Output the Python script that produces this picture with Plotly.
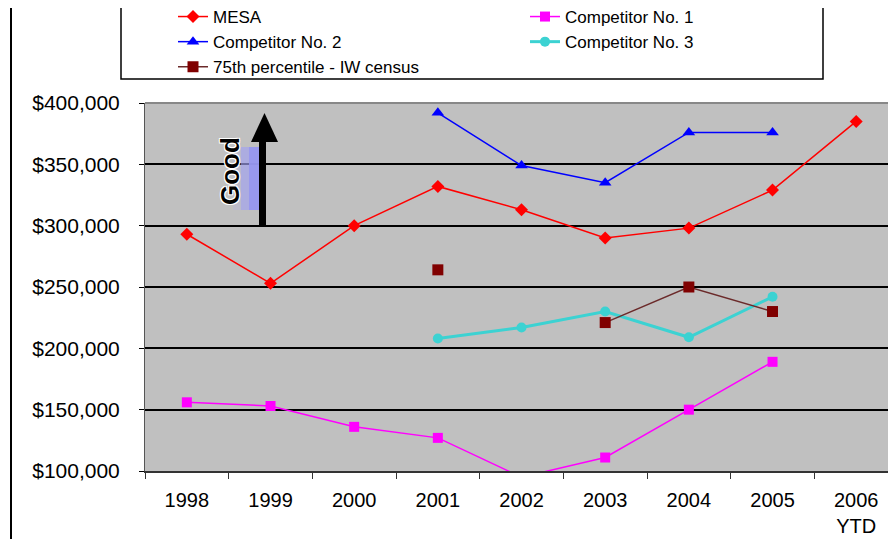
import plotly.graph_objects as go

years = ["1998", "1999", "2000", "2001", "2002", "2003", "2004", "2005", "2006<br>YTD"]
mesa = [293000, 253000, 300000, 332000, 313000, 290000, 298000, 329000, 385000]
comp1 = [156000, 153000, 136000, 127000, 95000, 111000, 150000, 189000, None]
comp2 = [None, None, None, 392000, 349000, 335000, 376000, 376000, None]
comp3 = [None, None, None, 208000, 217000, 230000, 209000, 242000, None]
pct75 = [None, None, None, 264000, None, 221000, 250000, 230000, None]
y_ticks = [100000, 150000, 200000, 250000, 300000, 350000, 400000]
y_tick_text = ["$" + f"{v:,}" for v in y_ticks]

# page body has an 8px margin: figure pixel = screen pixel - OFF
OFF = 8
W, H = 896 - 2 * OFF, 547 - 2 * OFF
L, R, T, B = 145 - OFF, 0, 103 - OFF, H - (471 - OFF)
PW, PH = W - L - R, H - T - B


def px(sx, sy):
    return (sx - OFF - L) / PW, (H - B - (sy - OFF)) / PH


FONT = "Liberation Sans, Arial, sans-serif"

fig = go.Figure()
series = [
    ("MESA", mesa, "#FF0000", "diamond", 10, 1.5),
    ("Competitor No. 1", comp1, "#FF00FF", "square", 10, 1.5),
    ("Competitor No. 2", comp2, "#0000FF", "triangle-up", 11, 1.5),
    ("Competitor No. 3", comp3, "#3CD2D2", "circle", 10, 3),
    ("75th percentile - IW census", pct75, "#800000", "square", 11, 1.5),
]
for name, vals, color, sym, size, lw in series:
    lc = "#6B2A2A" if color == "#800000" else color
    fig.add_trace(go.Scatter(
        x=years, y=vals, name=name, mode="lines+markers",
        line=dict(color=lc, width=lw),
        marker=dict(color=color, symbol=sym, size=size),
        connectgaps=False,
    ))

shapes = []
# outer frame (left and top)
x0, y0 = px(11, 560)
x1, y1 = px(11, 6)
shapes.append(dict(type="line", xref="paper", yref="paper", x0=x0, y0=y0, x1=x1, y1=y1,
                   line=dict(color="black", width=2)))
x2, _ = px(904, 6)
shapes.append(dict(type="line", xref="paper", yref="paper", x0=x0, y0=y1, x1=x2, y1=y1,
                   line=dict(color="#333333", width=2)))
# legend box
a, b = px(121, 79)
c, d = px(823, 6)
shapes.append(dict(type="rect", xref="paper", yref="paper", x0=a, y0=b, x1=c, y1=d,
                   line=dict(color="black", width=1.5), fillcolor="rgba(0,0,0,0)"))
# top plot border (gray)
shapes.append(dict(type="line", xref="paper", yref="paper", x0=0, y0=1, x1=1, y1=1,
                   line=dict(color="#888888", width=2)))
# lavender gradient behind "Good"
grad = [(233, "rgba(170,170,240,0.25)"), (241, "rgba(160,160,240,0.55)"), (249, "rgba(150,150,240,0.9)")]
for gx, gc in grad:
    a, b = px(gx, 210)
    c, d = px(259, 147)
    shapes.append(dict(type="rect", xref="paper", yref="paper", x0=a, y0=b, x1=c, y1=d,
                       line=dict(width=0), fillcolor=gc, layer="above"))
# arrow shaft
a, b = px(259, 226)
c, d = px(266, 140)
shapes.append(dict(type="rect", xref="paper", yref="paper", x0=a, y0=b, x1=c, y1=d,
                   line=dict(width=0), fillcolor="black", layer="above"))
# arrow head
p1 = px(251, 142)
p2 = px(278, 142)
p3 = px(264.5, 113)
shapes.append(dict(type="path", xref="paper", yref="paper",
                   path=f"M {p1[0]},{p1[1]} L {p2[0]},{p2[1]} L {p3[0]},{p3[1]} Z",
                   line=dict(width=0), fillcolor="black", layer="above"))

gx, gy = px(230, 171)
lx, ly = px(143, -1)

fig.update_layout(
    width=W, height=H, autosize=False,
    margin=dict(l=L, r=R, t=T, b=B, pad=0, autoexpand=False),
    paper_bgcolor="white", plot_bgcolor="#C0C0C0",
    font=dict(family=FONT, color="black"),
    shapes=shapes,
    annotations=[dict(
        x=gx, y=gy, xref="paper", yref="paper", text="<b>Good</b>", textangle=-90,
        xanchor="center", yanchor="middle",
        showarrow=False, font=dict(size=26, color="black", family=FONT,
                                   shadow="-1px -1px 0 white, 1px -1px 0 white, -1px 1px 0 white, 1px 1px 0 white"),
    )],
    legend=dict(
        orientation="h", x=lx, y=ly, xanchor="left", yanchor="top",
        bgcolor="rgba(0,0,0,0)", borderwidth=0,
        font=dict(size=17, family=FONT), entrywidth=277, entrywidthmode="pixels",
        indentation=30, traceorder="normal",
    ),
    showlegend=True,
)
fig.update_xaxes(
    type="category", tickson="boundaries", ticks="outside", ticklen=6, tickcolor="#333333",
    showline=True, linecolor="#333333", linewidth=2, showgrid=False,
    tickfont=dict(size=20, family=FONT), ticklabelstandoff=10,
    range=[-0.5, 8.38], automargin=False,
)
fig.update_yaxes(
    range=[100000, 400000], tickvals=y_ticks, ticktext=y_tick_text,
    ticks="outside", ticklen=5, tickcolor="black",
    showgrid=True, gridcolor="black", gridwidth=2,
    showline=True, linecolor="#555555", linewidth=1, ticklabelstandoff=15,
    tickfont=dict(size=21, family=FONT), zeroline=False, automargin=False,
)

fig.write_html("out.html")
